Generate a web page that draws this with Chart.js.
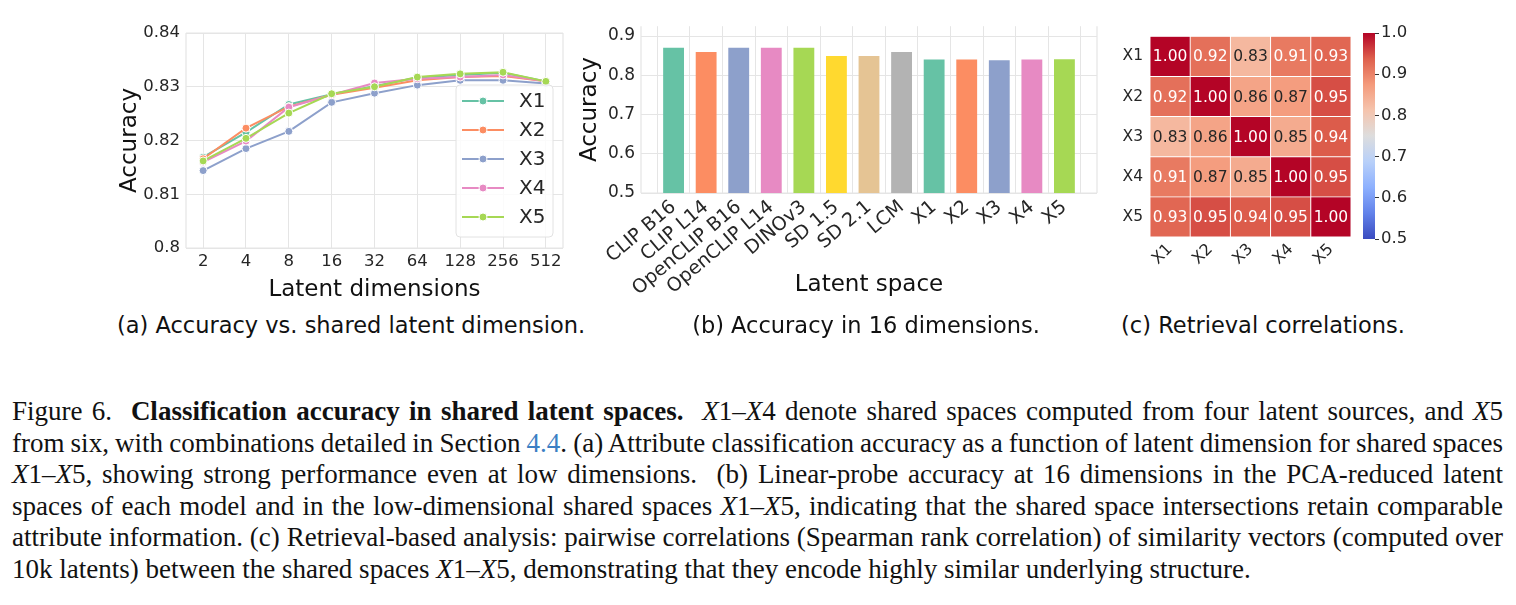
<!DOCTYPE html>
<html>
<head>
<meta charset="utf-8">
<script src="https://cdn.jsdelivr.net/npm/chart.js@4.4.1/dist/chart.umd.min.js"></script>
<style>
  body { margin: 0; width: 1516px; height: 605px; background: #fff; position: relative; overflow: hidden; }
  .box { position: absolute; }
  .sub { position: absolute; font-family: "DejaVu Sans", sans-serif; font-size: 22.5px; color: #111; white-space: nowrap; transform: translateX(-50%); }
  .cap { position: absolute; left: 12px; width: 1491px; font-family: "Liberation Serif", "Times New Roman", serif; font-size: 27px; color: #111; line-height: 31.5px; top: 396px; }
  .cap div { white-space: nowrap; }
  .cap a { color: #3b7fc4; text-decoration: none; }
</style>
</head>
<body>
<div class="box" style="left:100px;top:15px;width:475px;height:295px"><canvas id="lineChart"></canvas></div>
<div class="box" style="left:570px;top:10px;width:540px;height:300px"><canvas id="barChart"></canvas></div>
<div class="box" style="left:1095px;top:20px;width:265px;height:290px"><canvas id="heatChart"></canvas></div>
<div class="box" style="left:1350px;top:20px;width:70px;height:240px"><canvas id="cbarChart"></canvas></div>

<div class="sub" style="left:351px;top:312px">(a) Accuracy vs. shared latent dimension.</div>
<div class="sub" style="left:866px;top:312px">(b) Accuracy in 16 dimensions.</div>
<div class="sub" style="left:1263px;top:312px">(c) Retrieval correlations.</div>

<div class="cap">
  <div><span>Figure 6.&nbsp; <b>Classification accuracy in shared latent spaces.</b>&nbsp; <i>X</i>1–<i>X</i>4 denote shared spaces computed from four latent sources, and <i>X</i>5</span></div>
  <div><span>from six, with combinations detailed in Section <a>4.4</a>. (a) Attribute classification accuracy as a function of latent dimension for shared spaces</span></div>
  <div><span><i>X</i>1–<i>X</i>5, showing strong performance even at low dimensions.&nbsp; (b) Linear-probe accuracy at 16 dimensions in the PCA-reduced latent</span></div>
  <div><span>spaces of each model and in the low-dimensional shared spaces <i>X</i>1–<i>X</i>5, indicating that the shared space intersections retain comparable</span></div>
  <div><span>attribute information. (c) Retrieval-based analysis: pairwise correlations (Spearman rank correlation) of similarity vectors (computed over</span></div>
  <div class="last"><span>10k latents) between the shared spaces <i>X</i>1–<i>X</i>5, demonstrating that they encode highly similar underlying structure.</span></div>
</div>

<script>
// (a) accuracy vs latent dimension
const dims = ['2', '4', '8', '16', '32', '64', '128', '256', '512'];
const seriesNames = ['X1', 'X2', 'X3', 'X4', 'X5'];
const accX1 = [0.8169, 0.8215, 0.8267, 0.8286, 0.8301, 0.8317, 0.8322, 0.8326, 0.8310];
const accX2 = [0.8166, 0.8223, 0.8263, 0.8285, 0.8298, 0.8312, 0.8318, 0.8320, 0.8310];
const accX3 = [0.8144, 0.8185, 0.8217, 0.8271, 0.8288, 0.8303, 0.8312, 0.8312, 0.8306];
const accX4 = [0.8160, 0.8199, 0.8262, 0.8285, 0.8307, 0.8315, 0.8318, 0.8322, 0.8310];
const accX5 = [0.8162, 0.8204, 0.8251, 0.8287, 0.8300, 0.8318, 0.8324, 0.8327, 0.8310];
const lineTicks = [0.80, 0.81, 0.82, 0.83, 0.84];

// (b) accuracy at 16 dims
const spaces = ['CLIP B16', 'CLIP L14', 'OpenCLIP B16', 'OpenCLIP L14', 'DINOv3', 'SD 1.5', 'SD 2.1', 'LCM', 'X1', 'X2', 'X3', 'X4', 'X5'];
const acc16 = [0.870, 0.859, 0.870, 0.870, 0.870, 0.849, 0.849, 0.859, 0.840, 0.840, 0.838, 0.840, 0.841];
const barTicks = [0.5, 0.6, 0.7, 0.8, 0.9];

// (c) retrieval correlations
const corrLabels = ['X1', 'X2', 'X3', 'X4', 'X5'];
const corrX1 = [1.00, 0.92, 0.83, 0.91, 0.93];
const corrX2 = [0.92, 1.00, 0.86, 0.87, 0.95];
const corrX3 = [0.83, 0.86, 1.00, 0.85, 0.94];
const corrX4 = [0.91, 0.87, 0.85, 1.00, 0.95];
const corrX5 = [0.93, 0.95, 0.94, 0.95, 1.00];
const cbarTicks = [0.5, 0.6, 0.7, 0.8, 0.9, 1.0];

const set2 = ['#66c2a5', '#fc8d62', '#8da0cb', '#e78ac3', '#a6d854', '#ffd92f', '#e5c494', '#b3b3b3'];
const gridColor = '#e5e5e5';
const tickColor = '#262626';
const font = '"DejaVu Sans", sans-serif';

// coolwarm, vmin 0.5 vmax 1.0
const vmin = 0.5, vmax = 1.0;
const coolwarm = [[59,76,192],[98,130,234],[141,176,254],[184,208,249],[221,221,221],[245,196,173],[244,154,123],[222,96,77],[180,4,38]];
function cmap(v) {
  let t = Math.min(1, Math.max(0, (v - vmin) / (vmax - vmin))) * (coolwarm.length - 1);
  const i = Math.min(coolwarm.length - 2, Math.floor(t));
  const f = t - i;
  const c = coolwarm[i].map((a, k) => Math.round(a + (coolwarm[i + 1][k] - a) * f));
  return `rgb(${c[0]},${c[1]},${c[2]})`;
}

function fixWidth(w) { return (scale) => { scale.width = w; }; }
function fixHeight(h) { return (scale) => { scale.height = h; }; }

const framePlugin = (sides) => ({
  id: 'frame',
  beforeDatasetsDraw(chart) {
    const { ctx, chartArea: a } = chart;
    ctx.save();
    ctx.strokeStyle = gridColor;
    ctx.lineWidth = 1.2;
    ctx.beginPath();
    if (sides.includes('t')) { ctx.moveTo(a.left, a.top); ctx.lineTo(a.right, a.top); }
    if (sides.includes('b')) { ctx.moveTo(a.left, a.bottom); ctx.lineTo(a.right, a.bottom); }
    if (sides.includes('l')) { ctx.moveTo(a.left, a.top); ctx.lineTo(a.left, a.bottom); }
    if (sides.includes('r')) { ctx.moveTo(a.right, a.top); ctx.lineTo(a.right, a.bottom); }
    ctx.stroke();
    ctx.restore();
  }
});

const legendPlugin = {
  id: 'boxLegend',
  afterDraw(chart) {
    const { ctx, chartArea: a } = chart;
    const w = 97, h = 152;
    const x0 = a.right - 10 - w, y0 = a.bottom - 11 - h;
    ctx.save();
    ctx.fillStyle = 'rgba(255,255,255,0.85)';
    ctx.strokeStyle = '#e2e2e2';
    ctx.lineWidth = 1;
    ctx.beginPath();
    ctx.roundRect(x0, y0, w, h, 4);
    ctx.fill();
    ctx.stroke();
    chart.data.datasets.forEach((ds, i) => {
      const y = y0 + 16 + i * 29;
      ctx.strokeStyle = ds.borderColor;
      ctx.lineWidth = 2;
      ctx.beginPath();
      ctx.moveTo(x0 + 6, y); ctx.lineTo(x0 + 48, y);
      ctx.stroke();
      ctx.fillStyle = ds.borderColor;
      ctx.strokeStyle = '#fff';
      ctx.lineWidth = 1;
      ctx.beginPath();
      ctx.arc(x0 + 27, y, 4, 0, Math.PI * 2);
      ctx.fill();
      ctx.stroke();
      ctx.fillStyle = tickColor;
      ctx.font = '20px ' + font;
      ctx.textBaseline = 'middle';
      ctx.fillText(ds.label, x0 + 63, y + 1);
    });
    ctx.restore();
  }
};

const lineSeries = [accX1, accX2, accX3, accX4, accX5];
new Chart(document.getElementById('lineChart'), {
  type: 'line',
  data: {
    datasets: lineSeries.map((vals, i) => ({
      label: seriesNames[i],
      data: vals.map((v, k) => ({ x: k, y: v })),
      borderColor: set2[i],
      backgroundColor: set2[i],
      borderWidth: 2,
      pointRadius: 4,
      pointBorderColor: '#fff',
      pointBorderWidth: 1,
      order: 5 - i,
    })),
  },
  options: {
    responsive: true,
    maintainAspectRatio: false,
    animation: false,
    layout: { padding: { top: 18, right: 12 } },
    plugins: { legend: { display: false }, tooltip: { enabled: false } },
    scales: {
      x: {
        type: 'linear', min: -0.4, max: 8.4,
        afterBuildTicks: (s) => { s.ticks = dims.map((_, i) => ({ value: i })); },
        afterFit: fixHeight(62),
        ticks: { callback: (v) => dims[v], color: tickColor, font: { family: font, size: 16.5 }, padding: 4 },
        grid: { color: gridColor, drawTicks: false },
        border: { display: false },
        title: { display: true, text: 'Latent dimensions', color: '#111', font: { family: font, size: 23 }, padding: { top: 0, bottom: 6 } },
      },
      y: {
        min: 0.80, max: 0.84,
        afterBuildTicks: (s) => { s.ticks = lineTicks.map((v) => ({ value: v })); },
        afterFit: fixWidth(86),
        ticks: { callback: (v) => String(+v.toFixed(2)), color: tickColor, font: { family: font, size: 16.5 }, padding: 6 },
        grid: { color: gridColor, drawTicks: false },
        border: { display: false },
        title: { display: true, text: 'Accuracy', color: '#111', font: { family: font, size: 23 }, padding: { top: 16, bottom: 0 } },
      },
    },
  },
  plugins: [framePlugin('tblr'), legendPlugin],
});

new Chart(document.getElementById('barChart'), {
  type: 'bar',
  data: {
    datasets: [{
      data: acc16.map((v, i) => ({ x: i, y: v })),
      backgroundColor: acc16.map((_, i) => set2[i % set2.length]),
      barPercentage: 0.8,
      categoryPercentage: 0.8,
    }],
  },
  options: {
    responsive: true,
    maintainAspectRatio: false,
    animation: false,
    layout: { padding: { top: 12, right: 13 } },
    plugins: { legend: { display: false }, tooltip: { enabled: false } },
    scales: {
      x: {
        type: 'linear', min: -1, max: 13, offset: false,
        afterBuildTicks: (s) => { s.ticks = spaces.map((_, i) => ({ value: i })); },
        afterFit: fixHeight(117),
        ticks: { callback: (v) => spaces[v], autoSkip: false, color: tickColor, font: { family: font, size: 19 }, minRotation: 40, maxRotation: 40, padding: 3 },
        grid: { color: gridColor, drawTicks: false },
        border: { display: false },
        title: { display: true, text: 'Latent space', color: '#111', font: { family: font, size: 23 }, padding: { top: 0, bottom: 11 } },
      },
      y: {
        min: 0.5, max: 0.925,
        afterBuildTicks: (s) => { s.ticks = barTicks.map((v) => ({ value: v })); },
        afterFit: fixWidth(71),
        ticks: { callback: (v) => v.toFixed(1), color: tickColor, font: { family: font, size: 17 }, padding: 6 },
        grid: { color: gridColor, drawTicks: false },
        border: { display: false },
        title: { display: true, text: 'Accuracy', color: '#111', font: { family: font, size: 23 }, padding: { top: 6, bottom: 0 } },
      },
    },
  },
  plugins: [framePlugin('blr')],
});

const corrRows = [corrX1, corrX2, corrX3, corrX4, corrX5];
const cellLabels = {
  id: 'cellLabels',
  afterDatasetsDraw(chart) {
    const { ctx } = chart;
    ctx.save();
    ctx.font = '15.5px ' + font;
    ctx.textAlign = 'center';
    ctx.textBaseline = 'middle';
    chart.data.datasets.forEach((ds, r) => {
      chart.getDatasetMeta(r).data.forEach((el, c) => {
        const v = corrRows[r][c];
        ctx.fillStyle = v >= 0.9 ? '#fff' : '#262626';
        ctx.fillText(v.toFixed(2), el.x, (el.y + el.base) / 2 + 1);
      });
    });
    ctx.restore();
  }
};

new Chart(document.getElementById('heatChart'), {
  type: 'bar',
  data: {
    labels: corrLabels,
    datasets: corrRows.map((row, r) => ({
      data: row.map(() => [r, r + 1]),
      backgroundColor: row.map(cmap),
      borderColor: '#fff',
      borderWidth: 0.8,
      borderSkipped: false,
      barPercentage: 1,
      categoryPercentage: 1,
      grouped: false,
    })),
  },
  options: {
    responsive: true,
    maintainAspectRatio: false,
    animation: false,
    layout: { padding: { top: 16, right: 9 } },
    plugins: { legend: { display: false }, tooltip: { enabled: false } },
    scales: {
      x: {
        afterFit: fixHeight(73),
        ticks: { color: tickColor, font: { family: font, size: 16 }, minRotation: 45, maxRotation: 45, padding: 3 },
        grid: { display: false, drawTicks: false },
        border: { display: false },
      },
      y: {
        min: 0, max: 5, reverse: true,
        afterBuildTicks: (s) => { s.ticks = corrLabels.map((_, i) => ({ value: i + 0.5 })); },
        afterFit: fixWidth(55),
        ticks: { callback: (v) => corrLabels[Math.floor(v)], color: tickColor, font: { family: font, size: 15.5 }, padding: 7 },
        grid: { display: false, drawTicks: false },
        border: { display: false },
      },
    },
  },
  plugins: [cellLabels],
});

new Chart(document.getElementById('cbarChart'), {
  type: 'bar',
  data: {
    labels: [''],
    datasets: [{
      data: [[vmin, vmax]],
      backgroundColor: (c) => {
        const { chart } = c;
        if (!chart.chartArea) return null;
        const y = chart.scales.y;
        const g = chart.ctx.createLinearGradient(0, y.getPixelForValue(vmin), 0, y.getPixelForValue(vmax));
        coolwarm.forEach((_, i) => {
          const t = i / (coolwarm.length - 1);
          g.addColorStop(t, cmap(vmin + t * (vmax - vmin)));
        });
        return g;
      },
      barPercentage: 1,
      categoryPercentage: 1,
    }],
  },
  options: {
    responsive: true,
    maintainAspectRatio: false,
    animation: false,
    layout: { padding: { top: 13, left: 13, bottom: 21, right: 0 } },
    plugins: { legend: { display: false }, tooltip: { enabled: false } },
    scales: {
      x: { display: false },
      y: {
        position: 'right',
        min: vmin, max: vmax,
        afterBuildTicks: (s) => { s.ticks = cbarTicks.map((v) => ({ value: v })); },
        afterFit: fixWidth(45),
        ticks: { callback: (v) => v.toFixed(1), color: tickColor, font: { family: font, size: 16.5 }, padding: 2 },
        grid: { drawOnChartArea: false, drawTicks: true, tickLength: 4, color: '#333' },
        border: { display: false },
      },
    },
  },
});

// justify caption lines to the full width (last line stays ragged)
document.querySelectorAll('.cap div').forEach((line) => {
  if (line.classList.contains('last')) return;
  const span = line.querySelector('span');
  const w = span.getBoundingClientRect().width;
  const n = (span.textContent.match(/[ \u00a0]/g) || []).length;
  span.style.wordSpacing = ((1491 - w) / n) + 'px';
});
</script>
</body>
</html>
